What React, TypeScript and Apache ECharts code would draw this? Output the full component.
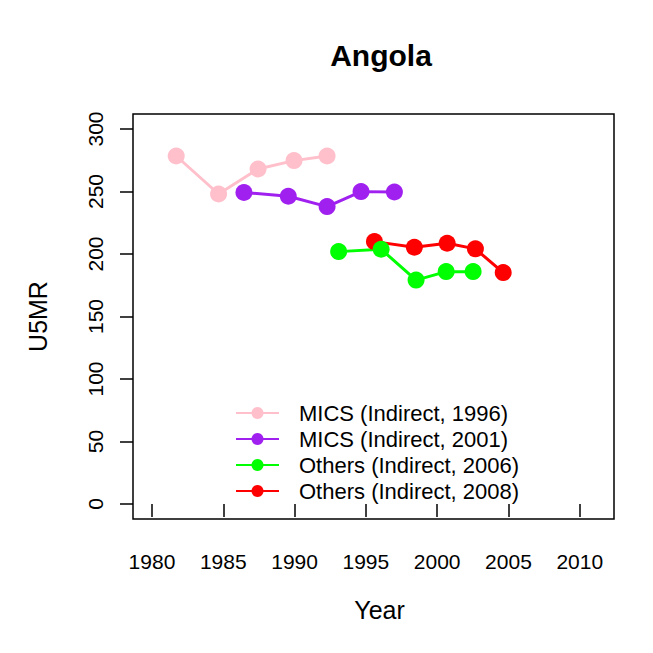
import React, { useEffect, useRef } from "react";
import * as echarts from "echarts";

const seriesNames = [
  "MICS (Indirect, 1996)",
  "MICS (Indirect, 2001)",
  "Others (Indirect, 2006)",
  "Others (Indirect, 2008)",
];
const seriesColors = ["#FFC0CB", "#A020F0", "#00FF00", "#FF0000"];

const mics1996Years = [1981.7, 1984.67, 1987.44, 1989.96, 1992.28];
const mics1996Values = [278.4, 248.0, 268.0, 274.7, 278.4];

const mics2001Years = [1986.45, 1989.56, 1992.28, 1994.66, 1997.0];
const mics2001Values = [249.2, 246.2, 237.9, 249.9, 249.6];

const others2006Years = [1993.09, 1996.07, 1998.52, 2000.63, 2002.52];
const others2006Values = [201.9, 203.8, 179.1, 185.9, 185.9];

const others2008Years = [1995.6, 1998.4, 2000.7, 2002.68, 2004.63];
const others2008Values = [209.9, 205.4, 208.6, 204.1, 185.1];

const xTicks = [1980, 1985, 1990, 1995, 2000, 2005, 2010];
const yTicks = [0, 50, 100, 150, 200, 250, 300];

const FONT = "Liberation Sans, Arial, Helvetica, sans-serif";

function pairs(xs: number[], ys: number[]) {
  return xs.map((x, i) => [x, ys[i]]);
}

export default function App() {
  const ref = useRef<HTMLDivElement>(null);
  useEffect(() => {
    if (!ref.current) return;
    const chart = echarts.init(ref.current, undefined, { renderer: "svg" });
    const mk = (idx: number, xs: number[], ys: number[]) => ({
      name: seriesNames[idx],
      type: "line",
      data: pairs(xs, ys),
      symbol: "circle",
      symbolSize: 17,
      color: seriesColors[idx],
      lineStyle: { color: seriesColors[idx], width: 3 },
      itemStyle: { color: seriesColors[idx] },
      emphasis: { disabled: true },
    });
    chart.setOption({
      animation: false,
      backgroundColor: "#ffffff",
      title: {
        text: "Angola",
        left: 376,
        top: 35,
        textAlign: "center",
        textStyle: { fontFamily: FONT, fontSize: 30, fontWeight: "bold", color: "#000" },
      },
      grid: {
        left: 133,
        top: 114,
        right: 39,
        bottom: 134,
        show: true,
        borderColor: "#000",
        borderWidth: 1.5,
        backgroundColor: "transparent",
      },
      legend: {
        orient: "vertical",
        left: 230,
        top: 397,
        itemWidth: 43,
        itemHeight: 15,
        itemGap: 4,
        data: seriesNames,
        textStyle: {
          fontFamily: FONT,
          fontSize: 22,
          lineHeight: 22,
          color: "#000",
          padding: [0, 0, 0, 15],
        },
      },
      xAxis: {
        type: "value",
        min: 1978.67,
        max: 2012.4,
        name: "Year",
        nameLocation: "middle",
        nameGap: 78,
        nameTextStyle: { fontFamily: FONT, fontSize: 25, color: "#000", padding: [0, 0, 0, 12] },
        splitLine: { show: false },
        axisLine: { show: false },
        axisTick: {
          show: true,
          inside: false,
          length: 13,
          lineStyle: { color: "#000", width: 1.5 },
          customValues: xTicks,
        },
        axisLabel: {
          fontFamily: FONT,
          fontSize: 21,
          color: "#000",
          margin: 32,
          customValues: xTicks,
          formatter: (v: number) => String(v),
        },
      },
      yAxis: {
        type: "value",
        min: -12,
        max: 312,
        name: "U5MR",
        nameLocation: "middle",
        nameGap: 83,
        nameRotate: 90,
        nameTextStyle: { fontFamily: FONT, fontSize: 25, color: "#000" },
        splitLine: { show: false },
        axisLine: { show: false },
        axisTick: {
          show: true,
          inside: false,
          length: 13,
          lineStyle: { color: "#000", width: 1.5 },
          customValues: yTicks,
        },
        axisLabel: {
          fontFamily: FONT,
          fontSize: 21,
          color: "#000",
          rotate: 90,
          margin: 27,
          customValues: yTicks,
          formatter: (v: number) => String(v),
        },
      },
      series: [
        mk(0, mics1996Years, mics1996Values),
        mk(1, mics2001Years, mics2001Values),
        mk(3, others2008Years, others2008Values),
        mk(2, others2006Years, others2006Values),
      ],
    });
    return () => chart.dispose();
  }, []);
  return (
    <div
      ref={ref}
      style={{ position: "fixed", left: 0, top: 0, width: 653, height: 653, background: "#fff" }}
    />
  );
}
